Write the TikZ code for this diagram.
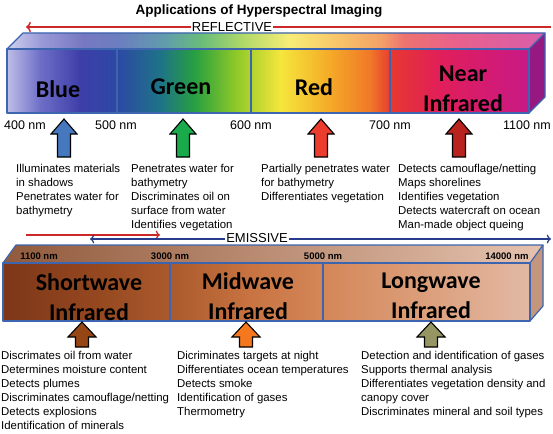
\documentclass[tikz,border=0pt]{standalone}
\usepackage{fontspec}
\setmainfont{Liberation Sans}
\newfontfamily\bandfont{Carlito}
\usetikzlibrary{arrows.meta}

\definecolor{edgeblue}{RGB}{60,100,175}
\definecolor{reflred}{RGB}{205,40,40}
\definecolor{emisblue}{RGB}{40,60,140}
% spectrum colours
\definecolor{sp0}{RGB}{190,190,232}
\definecolor{sp1}{RGB}{110,110,200}
\definecolor{sp2}{RGB}{62,62,168}
\definecolor{sp3}{RGB}{45,72,165}
\definecolor{sp4}{RGB}{30,115,135}
\definecolor{sp5}{RGB}{40,160,65}
\definecolor{sp6}{RGB}{140,200,40}
\definecolor{sp7}{RGB}{245,230,60}
\definecolor{sp8}{RGB}{245,170,40}
\definecolor{sp9}{RGB}{240,120,40}
\definecolor{sp10}{RGB}{230,55,50}
\definecolor{sp11}{RGB}{225,30,90}
\definecolor{sp12}{RGB}{200,25,135}
\definecolor{nirside}{RGB}{150,25,130}
% thermal colours
\definecolor{ir0}{RGB}{125,55,25}
\definecolor{ir1}{RGB}{150,72,32}
\definecolor{ir2}{RGB}{170,90,45}
\definecolor{ir3}{RGB}{200,115,65}
\definecolor{ir4}{RGB}{212,135,88}
\definecolor{ir5}{RGB}{220,160,125}
\definecolor{ir6}{RGB}{226,185,165}
\definecolor{irtopl}{RGB}{145,90,60}
\definecolor{irtopr}{RGB}{230,195,175}
\definecolor{irside}{RGB}{195,150,125}
% arrow colours
\definecolor{arblue}{RGB}{70,120,190}
\definecolor{argreen}{RGB}{25,170,75}
\definecolor{arred}{RGB}{235,60,45}
\definecolor{ardkred}{RGB}{185,35,30}
\definecolor{arbrown}{RGB}{150,70,20}
\definecolor{arorange}{RGB}{245,120,30}
\definecolor{arolive}{RGB}{150,150,100}

\pgfdeclarehorizontalshading{spectrum}{100bp}{color(0bp)=(sp0); color(25bp)=(sp0);
  color(28.2bp)=(sp1); color(32bp)=(sp2); color(35.5bp)=(sp3); color(39.7bp)=(sp4);
  color(43bp)=(sp5); color(46.8bp)=(sp6); color(51.2bp)=(sp7); color(55.9bp)=(sp8);
  color(59.8bp)=(sp9); color(61.9bp)=(sp10); color(66.5bp)=(sp11); color(75bp)=(sp12);
  color(100bp)=(sp12)}
\pgfdeclarehorizontalshading{thermal}{100bp}{color(0bp)=(ir0); color(25bp)=(ir0);
  color(34.2bp)=(ir1); color(40.9bp)=(ir2); color(48.4bp)=(ir3); color(55.4bp)=(ir4);
  color(65.5bp)=(ir5); color(75bp)=(ir6); color(100bp)=(ir6)}

% fat up arrow: x, tip y, head base y, bottom y, head half width, colour
\newcommand{\fatarrow}[6]{%
  \draw[arrowline,fill=#6] (#1,#2) -- ({#1+#5},#3) -- ({#1+6.5},#3) -- ({#1+6.5},#4)
    -- ({#1-6.5},#4) -- ({#1-6.5},#3) -- ({#1-#5},#3) -- cycle;}

\tikzset{
  edge/.style={edgeblue,line width=1.2pt,line join=round},
  arrowline/.style={black,line width=1.1pt},
  band/.style={font=\bandfont\bfseries\fontsize{24}{30}\selectfont,align=center,inner sep=0pt},
  nmlabel/.style={font=\fontsize{12.5}{14}\selectfont,inner sep=0pt},
  smallnm/.style={font=\bfseries\fontsize{9.5}{11}\selectfont,inner sep=0pt},
  uses/.style={font=\fontsize{11.4}{14.1}\selectfont,align=left,anchor=north west,inner sep=0pt},
  rangelabel/.style={font=\fontsize{13}{15}\selectfont,fill=white,inner sep=1pt}
}

\begin{document}
\begin{tikzpicture}[x=1pt,y=-1pt]
  \useasboundingbox (0,0) rectangle (553,433);
  \fill[white] (0,0) rectangle (553,433);

  \node[font=\bfseries\fontsize{13.5}{16}\selectfont] (title) at (259,11) {Applications of Hyperspectral Imaging};

  % reflective range
  \coordinate (reflR) at (551,27);
  \coordinate (reflL) at (26,27);
  \draw[reflred,line width=1.5pt,->] (reflR) -- (reflL);
  \node[rangelabel] (refl) at (232,27) {REFLECTIVE};

  % reflective bar
  \shade[shading=spectrum] (7,49) rectangle (529,113);
  \shade[shading=spectrum] (7,49) -- (23,33) -- (545,33) -- (529,49) -- cycle;
  \fill[white,opacity=.3] (7,49) -- (23,33) -- (545,33) -- (529,49) -- cycle;
  \fill[nirside] (529,49) -- (545,33) -- (545,97) -- (529,113) -- cycle;
  \draw[edge] (7,49) rectangle (529,113);
  \draw[edge] (7,49) -- (23,33) -- (545,33) -- (529,49);
  \draw[edge] (545,33) -- (545,97) -- (529,113);
  \draw[edge] (117,49) -- (117,113);
  \draw[edge] (251,49) -- (251,113);
  \draw[edge] (390,49) -- (390,113);

  \node[band] (blue) at (58,89) {Blue};
  \node[band] (green) at (181,87) {Green};
  \node[band] (red) at (314,87) {Red};
  \node[band] (nir) at (463,89) {Near\\Infrared};

  \node[nmlabel] (nm400) at (25,125) {400 nm};
  \node[nmlabel] (nm500) at (116,125) {500 nm};
  \node[nmlabel] (nm600) at (251,125) {600 nm};
  \node[nmlabel] (nm700) at (390,125) {700 nm};
  \node[nmlabel] (nm1100) at (527,125) {1100 nm};

  \fatarrow{64}{119}{134}{157}{13}{arblue}
  \fatarrow{183}{119}{134}{157}{13}{argreen}
  \fatarrow{321}{119}{134}{157}{13}{arred}
  \fatarrow{459}{119}{134}{157}{13}{ardkred}

  \node[uses] (useblue) at (16,164) {Illuminates materials\\in shadows\\Penetrates water for\\bathymetry};
  \node[uses] (usegreen) at (131,164) {Penetrates water for\\bathymetry\\Discriminates oil on\\surface from water\\Identifies vegetation};
  \node[uses] (usered) at (261,164) {Partially penetrates water\\for bathymetry\\Differentiates vegetation};
  \node[uses] (usenir) at (398,164) {Detects camouflage/netting\\Maps shorelines\\Identifies vegetation\\Detects watercraft on ocean\\Man-made object queing};

  % emissive range
  \coordinate (swL) at (26,235);
  \coordinate (swR) at (160,235);
  \draw[reflred,line width=1.2pt,->] (swL) -- (swR);
  \coordinate (emisL) at (90,239);
  \coordinate (emisR) at (551,239);
  \draw[emisblue,line width=1.2pt,<->] (emisL) -- (emisR);
  \node[rangelabel] (emis) at (257,238) {EMISSIVE};

  % emissive bar
  \shade[shading=thermal] (3,263) rectangle (530,321);
  \shade[left color=irtopl,right color=irtopr] (3,263) -- (16,245) -- (543,245) -- (530,263) -- cycle;
  \fill[irside] (530,263) -- (543,245) -- (543,306) -- (530,321) -- cycle;
  \draw[edge] (3,263) rectangle (530,321);
  \draw[edge] (3,263) -- (16,245) -- (543,245) -- (530,263);
  \draw[edge] (543,245) -- (543,306) -- (530,321);
  \draw[edge] (170,263) -- (170,321);
  \draw[edge] (323,263) -- (323,321);

  \node[smallnm] (nm1100b) at (39,256) {1100 nm};
  \node[smallnm] (nm3000) at (170,256) {3000 nm};
  \node[smallnm] (nm5000) at (323,256) {5000 nm};
  \node[smallnm] (nm14000) at (507,256) {14000 nm};

  \node[band] (swir) at (89,297) {Shortwave\\Infrared};
  \node[band] (mwir) at (248,296) {Midwave\\Infrared};
  \node[band] (lwir) at (431,296) {Longwave\\Infrared};

  \fatarrow{82}{322}{337}{347}{14}{arbrown}
  \fatarrow{246}{322}{337}{347}{14}{arorange}
  \fatarrow{431}{322}{337}{347}{14}{arolive}

  \node[uses] (useswir) at (1,351) {Discrimates oil from water\\Determines moisture content\\Detects plumes\\Discriminates camouflage/netting\\Detects explosions\\Identification of minerals};
  \node[uses] (usemwir) at (177,351) {Dicriminates targets at night\\Differentiates ocean temperatures\\Detects smoke\\Identification of gases\\Thermometry};
  \node[uses] (uselwir) at (361,351) {Detection and identification of gases\\Supports thermal analysis\\Differentiates vegetation density and\\canopy cover\\Discriminates mineral and soil types};
\end{tikzpicture}
\end{document}
